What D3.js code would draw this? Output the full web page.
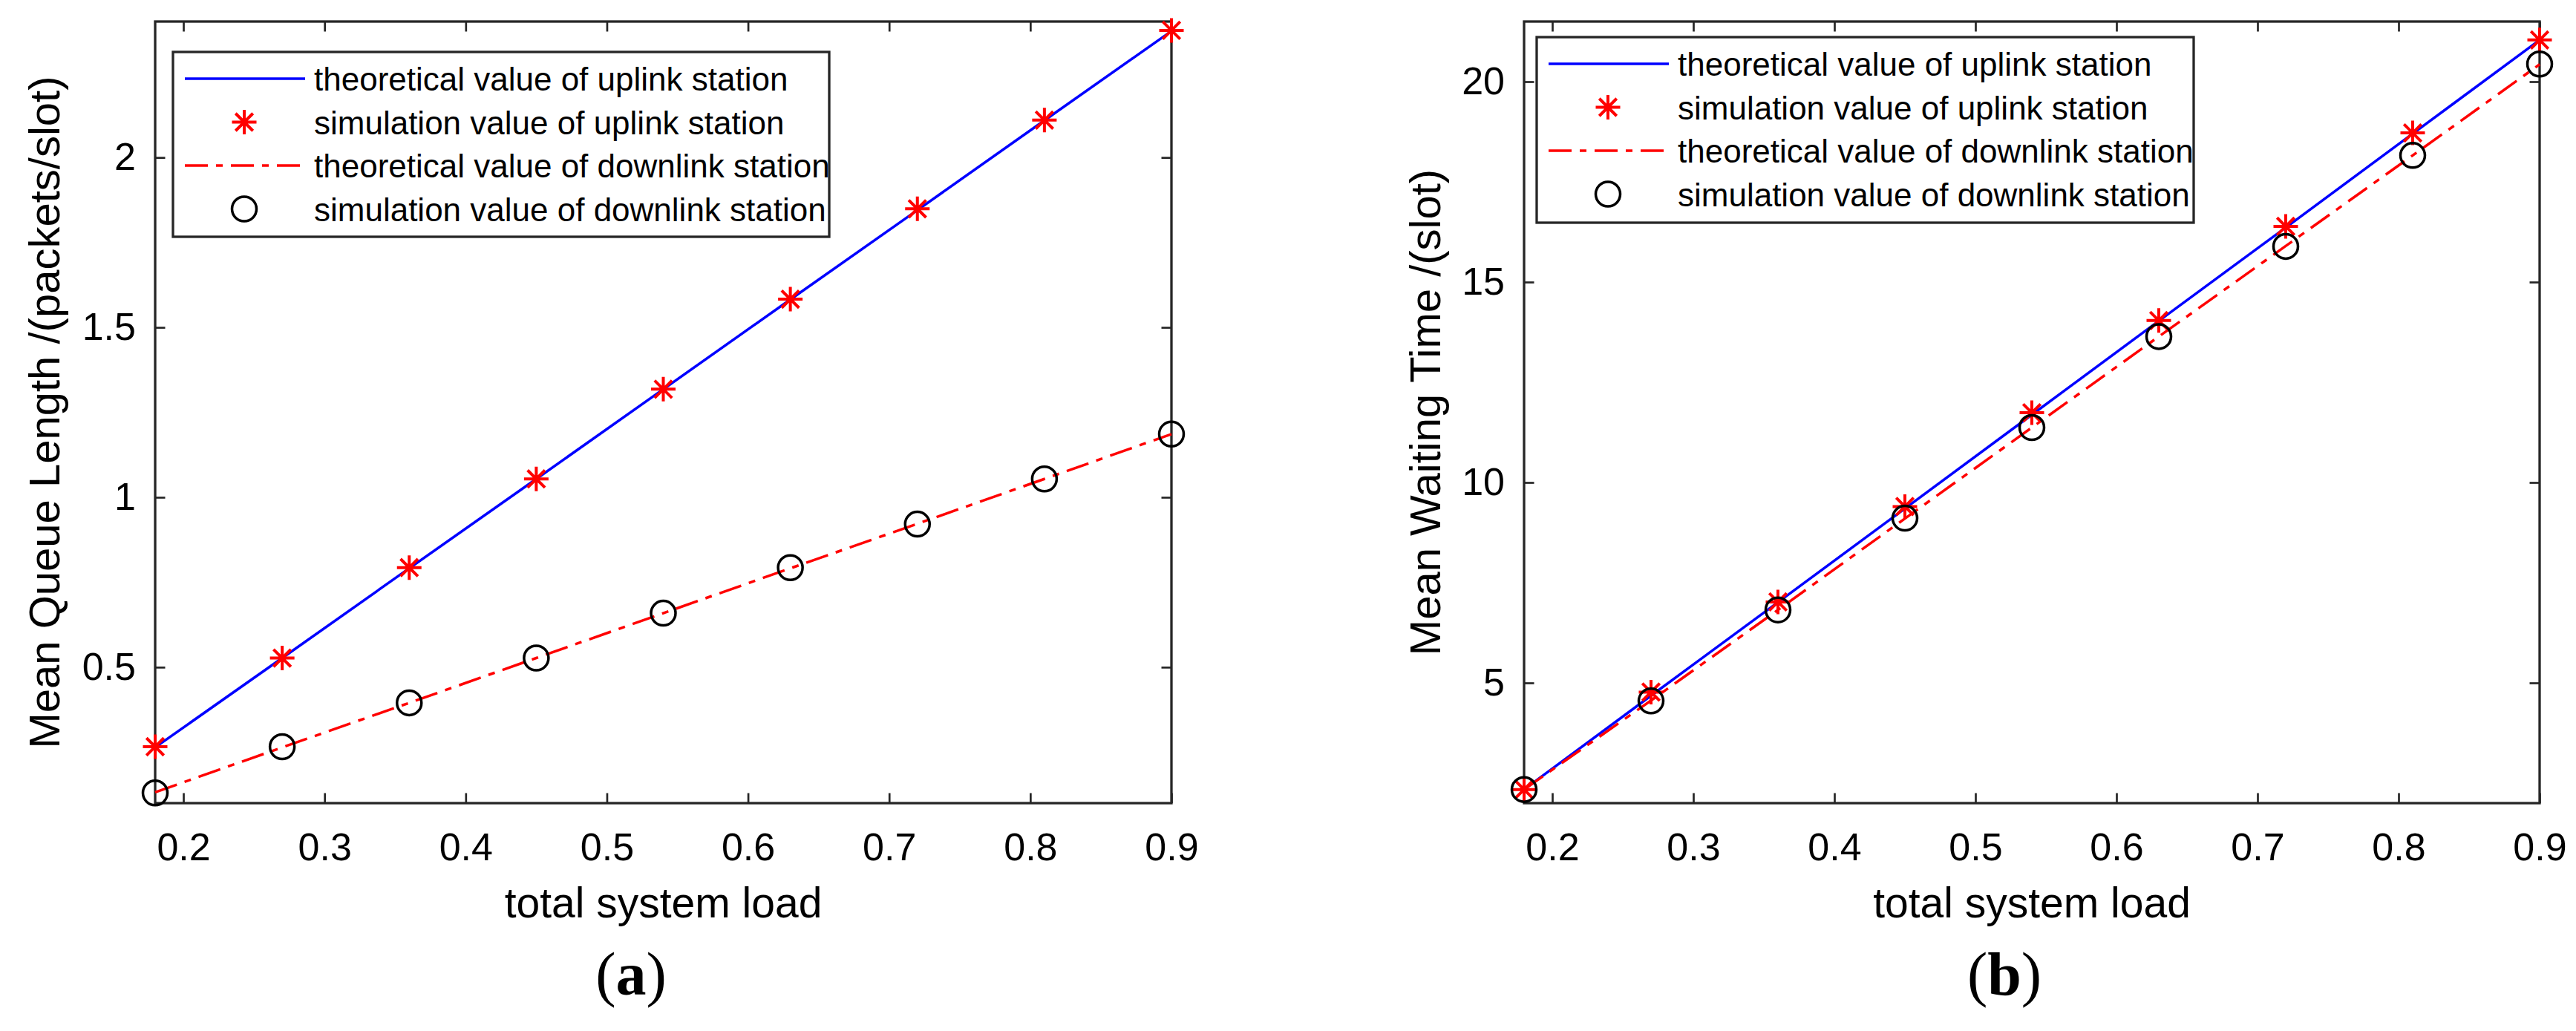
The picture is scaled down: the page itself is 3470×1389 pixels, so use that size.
<!DOCTYPE html>
<html>
<head>
<meta charset="utf-8">
<script src="https://cdn.jsdelivr.net/npm/d3@7"></script>
<style>
  body { margin: 0; background: #fff; }
  text { font-family: "Liberation Sans", Arial, sans-serif; }
</style>
</head>
<body>
<script>
// shared x values (total system load)
const loads = [0.18, 0.27, 0.36, 0.45, 0.54, 0.63, 0.72, 0.81, 0.90];
const xTicks = [0.2, 0.3, 0.4, 0.5, 0.6, 0.7, 0.8, 0.9];

// (a) mean queue length
const queueUpTheory = [0.264, 0.527, 0.791, 1.054, 1.318, 1.582, 1.845, 2.109, 2.372];
const queueUpSim = [0.266, 0.527, 0.793, 1.054, 1.318, 1.583, 1.849, 2.110, 2.374];
const queueDownTheory = [0.132, 0.264, 0.395, 0.527, 0.659, 0.791, 0.922, 1.054, 1.186];
const queueDownSim = [0.130, 0.266, 0.395, 0.527, 0.659, 0.793, 0.921, 1.054, 1.186];
const queueTicks = [0.5, 1, 1.5, 2];

// (b) mean waiting time
const waitUpTheory = [2.34, 4.68, 7.01, 9.35, 11.69, 14.03, 16.36, 18.70, 21.04];
const waitUpSim = [2.34, 4.77, 7.02, 9.40, 11.74, 14.04, 16.39, 18.72, 21.04];
const waitDownTheory = [2.34, 4.56, 6.82, 9.10, 11.37, 13.64, 15.90, 18.16, 20.43];
const waitDownSim = [2.34, 4.55, 6.82, 9.11, 11.37, 13.64, 15.89, 18.16, 20.44];
const waitTicks = [5, 10, 15, 20];

const legendLabels = [
  'theoretical value of uplink station',
  'simulation value of uplink station',
  'theoretical value of downlink station',
  'simulation value of downlink station'
];

const W = 3470, H = 1389;
const axisColor = '#262626';

const svg = d3.select('body').append('svg')
  .attr('width', W)
  .attr('height', H);

svg.append('rect').attr('width', W).attr('height', H).attr('fill', '#fff');

function starPath(r) {
  const d = r * 0.71;
  return `M${-r},0H${r}M0,${-r}V${r}M${-d},${-d}L${d},${d}M${-d},${d}L${d},${-d}`;
}

function styleAxis(sel, fontSize) {
  sel.select('.domain').remove();
  sel.selectAll('.tick line').attr('stroke', axisColor).attr('stroke-width', 2.7);
  sel.selectAll('.tick text').attr('fill', '#000').attr('font-size', fontSize)
    .attr('font-family', '"Liberation Sans", Arial, sans-serif');
}

function drawPanel(p) {
  const g = svg.append('g');

  const x = d3.scaleLinear().domain([0.18, 0.9]).range([p.left, p.right]);
  const y = d3.scaleLinear().domain(p.yDomain).range([p.bottom, p.top]);

  // ticks on all four sides, pointing inward
  g.append('g')
    .attr('transform', `translate(0,${p.bottom})`)
    .call(d3.axisBottom(x).tickValues(xTicks).tickFormat(d3.format('.1f'))
      .tickSizeInner(-13.5).tickSizeOuter(0).tickPadding(40))
    .call(s => styleAxis(s, 52));

  g.append('g')
    .attr('transform', `translate(0,${p.top})`)
    .call(d3.axisTop(x).tickValues(xTicks).tickFormat('')
      .tickSizeInner(-13.5).tickSizeOuter(0))
    .call(s => styleAxis(s, 52));

  g.append('g')
    .attr('transform', `translate(${p.left},0)`)
    .call(d3.axisLeft(y).tickValues(p.yTicks).tickFormat(d => String(d))
      .tickSizeInner(-13.5).tickSizeOuter(0).tickPadding(26))
    .call(s => styleAxis(s, 52));

  g.append('g')
    .attr('transform', `translate(${p.right},0)`)
    .call(d3.axisRight(y).tickValues(p.yTicks).tickFormat('')
      .tickSizeInner(-13.5).tickSizeOuter(0))
    .call(s => styleAxis(s, 52));

  g.append('rect')
    .attr('x', p.left)
    .attr('y', p.top)
    .attr('width', p.right - p.left)
    .attr('height', p.bottom - p.top)
    .attr('fill', 'none')
    .attr('stroke', axisColor)
    .attr('stroke-width', 3.3);

  const line = d3.line()
    .x((d, i) => x(loads[i]))
    .y(d => y(d));

  g.append('path')
    .datum(p.upTheory)
    .attr('d', line)
    .attr('fill', 'none')
    .attr('stroke', '#0000ff')
    .attr('stroke-width', 3.5);

  g.append('g')
    .selectAll('path')
    .data(p.upSim)
    .join('path')
    .attr('transform', (d, i) => `translate(${x(loads[i])},${y(d)})`)
    .attr('d', starPath(16.5))
    .attr('fill', 'none')
    .attr('stroke', '#ff0000')
    .attr('stroke-width', 4);

  g.append('path')
    .datum(p.downTheory)
    .attr('d', line)
    .attr('fill', 'none')
    .attr('stroke', '#ff0000')
    .attr('stroke-width', 3.5)
    .attr('stroke-dasharray', '31,11,9,11');

  g.append('g')
    .selectAll('circle')
    .data(p.downSim)
    .join('circle')
    .attr('cx', (d, i) => x(loads[i]))
    .attr('cy', d => y(d))
    .attr('r', 16.5)
    .attr('fill', 'none')
    .attr('stroke', '#000')
    .attr('stroke-width', 3.5);

  // legend
  const lg = g.append('g').attr('transform', `translate(${p.legend.x},${p.legend.y})`);
  lg.append('rect')
    .attr('width', p.legend.w)
    .attr('height', p.legend.h)
    .attr('fill', '#fff')
    .attr('stroke', axisColor)
    .attr('stroke-width', 3.3);

  const rows = lg.selectAll('g.row')
    .data(legendLabels)
    .join('g')
    .attr('class', 'row')
    .attr('transform', (d, i) => `translate(0,${36 + i * 58.5})`);

  rows.append('text')
    .text(d => d)
    .attr('x', 190)
    .attr('y', 16)
    .attr('font-size', 44)
    .attr('fill', '#000');

  rows.filter((d, i) => i === 0).append('line')
    .attr('x1', 16).attr('x2', 178)
    .attr('stroke', '#0000ff').attr('stroke-width', 3.5);
  rows.filter((d, i) => i === 1).append('path')
    .attr('transform', 'translate(96,0)')
    .attr('d', starPath(16.5))
    .attr('fill', 'none').attr('stroke', '#ff0000').attr('stroke-width', 4);
  rows.filter((d, i) => i === 2).append('line')
    .attr('x1', 16).attr('x2', 178)
    .attr('stroke', '#ff0000').attr('stroke-width', 3.5)
    .attr('stroke-dasharray', '31,11,9,11');
  rows.filter((d, i) => i === 3).append('circle')
    .attr('cx', 96).attr('r', 16.5)
    .attr('fill', 'none').attr('stroke', '#000').attr('stroke-width', 3.5);

  // axis titles
  g.append('text')
    .text('total system load')
    .attr('x', (p.left + p.right) / 2)
    .attr('y', 1236)
    .attr('text-anchor', 'middle')
    .attr('font-size', 57)
    .attr('fill', '#000');

  g.append('text')
    .text(p.yLabel)
    .attr('transform', `translate(${p.yLabelX},${(p.top + p.bottom) / 2}) rotate(-90)`)
    .attr('text-anchor', 'middle')
    .attr('font-size', 58)
    .attr('fill', '#000');

  // sub-figure caption
  const cap = g.append('text')
    .attr('x', p.captionX)
    .attr('y', 1340)
    .attr('text-anchor', 'middle')
    .attr('font-size', 82)
    .attr('fill', '#000')
    .style('font-family', '"Liberation Serif", "Times New Roman", serif');
  cap.append('tspan').text('(');
  cap.append('tspan').text(p.caption).attr('font-weight', 'bold');
  cap.append('tspan').text(')');
}

drawPanel({
  left: 209, right: 1578, top: 29, bottom: 1082,
  yDomain: [0.1, 2.4], yTicks: queueTicks,
  upTheory: queueUpTheory, upSim: queueUpSim,
  downTheory: queueDownTheory, downSim: queueDownSim,
  legend: { x: 233, y: 70, w: 884, h: 249 },
  yLabel: 'Mean Queue Length /(packets/slot)', yLabelX: 80,
  caption: 'a', captionX: 850
});

drawPanel({
  left: 2053, right: 3421, top: 29, bottom: 1082,
  yDomain: [2, 21.5], yTicks: waitTicks,
  upTheory: waitUpTheory, upSim: waitUpSim,
  downTheory: waitDownTheory, downSim: waitDownSim,
  legend: { x: 2070, y: 50, w: 885, h: 250 },
  yLabel: 'Mean Waiting Time /(slot)', yLabelX: 1940,
  caption: 'b', captionX: 2700
});
</script>
</body>
</html>
